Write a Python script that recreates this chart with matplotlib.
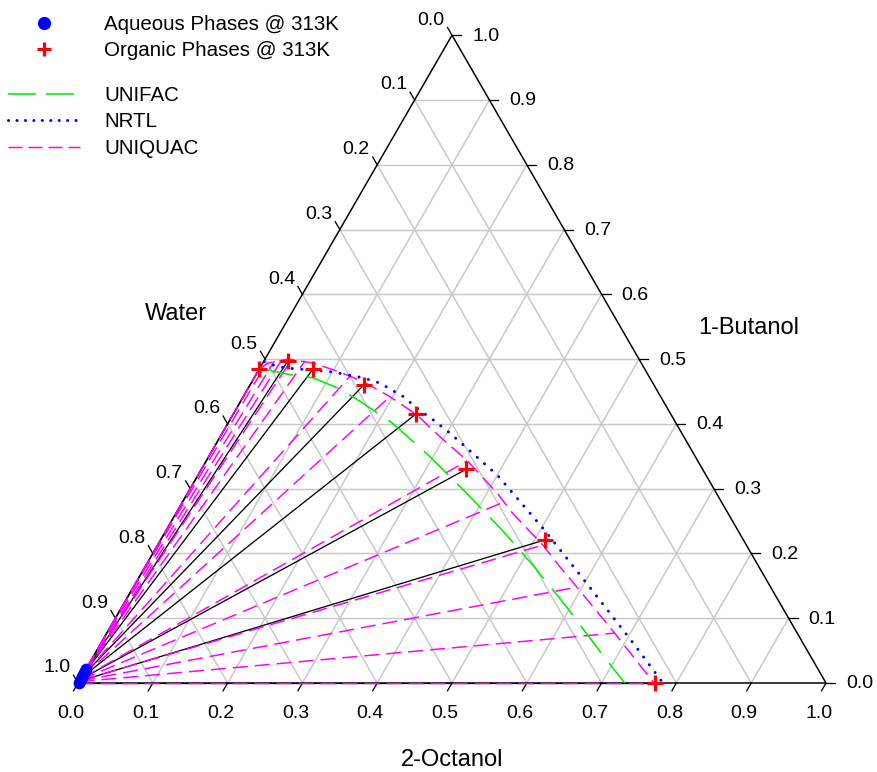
import numpy as np
import matplotlib
matplotlib.use('Agg')
import matplotlib.pyplot as plt
from matplotlib.lines import Line2D

plt.rcParams['font.family'] = ['Liberation Sans', 'DejaVu Sans']
plt.rcParams['lines.scale_dashes'] = False

# ---------------- data (mole fractions: 2-octanol, 1-butanol; water = rest) -------------
# experimental organic phases @ 313K
org_octanol = [0.000, 0.032, 0.072, 0.152, 0.244, 0.354, 0.514, 0.771]
org_butanol = [0.485, 0.497, 0.485, 0.460, 0.415, 0.330, 0.221, 0.000]
# experimental aqueous phases @ 313K
aq_octanol = [0.000, 0.001, 0.001, 0.001, 0.001, 0.001, 0.001, 0.001]
aq_butanol = [0.021, 0.018, 0.015, 0.012, 0.009, 0.006, 0.003, 0.000]

# UNIQUAC calculated tie lines
uq_tie_org_octanol = [0.000, 0.005, 0.014, 0.023, 0.036, 0.055, 0.127, 0.196,
                      0.349, 0.429, 0.515, 0.593, 0.679, 0.770]
uq_tie_org_butanol = [0.485, 0.492, 0.497, 0.499, 0.500, 0.497, 0.474, 0.442,
                      0.343, 0.279, 0.213, 0.148, 0.077, 0.000]
uq_tie_aq_octanol = [0.000, 0.000, 0.000, 0.001, 0.001, 0.001, 0.001, 0.001,
                     0.001, 0.001, 0.001, 0.001, 0.001, 0.000]
uq_tie_aq_butanol = [0.024, 0.022, 0.021, 0.019, 0.017, 0.015, 0.012, 0.009,
                     0.007, 0.005, 0.004, 0.003, 0.002, 0.000]

# binodal curves (organic branch)
uniquac_octanol = [0.000, 0.007, 0.031, 0.067, 0.110, 0.149, 0.196, 0.246, 0.294,
                   0.349, 0.414, 0.450, 0.515, 0.555, 0.593, 0.679, 0.770]
uniquac_butanol = [0.485, 0.494, 0.500, 0.494, 0.480, 0.465, 0.442, 0.414, 0.380,
                   0.343, 0.293, 0.262, 0.213, 0.179, 0.148, 0.077, 0.000]

unifac_octanol = [0.000, 0.046, 0.079, 0.123, 0.165, 0.220, 0.295, 0.373, 0.449,
                  0.522, 0.595, 0.680, 0.731]
unifac_butanol = [0.486, 0.476, 0.471, 0.454, 0.432, 0.401, 0.350, 0.293, 0.236,
                  0.178, 0.117, 0.043, 0.000]

nrtl_octanol = [0.001, 0.023, 0.048, 0.075, 0.101, 0.146, 0.172, 0.214, 0.243,
                0.272, 0.304, 0.400, 0.502, 0.603, 0.711, 0.782]
nrtl_butanol = [0.496, 0.488, 0.485, 0.483, 0.480, 0.471, 0.463, 0.442, 0.423,
                0.406, 0.386, 0.321, 0.239, 0.154, 0.062, 0.000]

tick_values = [0.0, 0.1, 0.2, 0.3, 0.4, 0.5, 0.6, 0.7, 0.8, 0.9, 1.0]
tick_labels = ['0.0', '0.1', '0.2', '0.3', '0.4', '0.5', '0.6', '0.7', '0.8', '0.9', '1.0']

legend_labels = ['Aqueous Phases @ 313K', 'Organic Phases @ 313K', 'UNIFAC', 'NRTL', 'UNIQUAC']
axis_titles = ['Water', '1-Butanol', '2-Octanol']

# ---------------- figure ----------------
W, H = 877, 772
fig = plt.figure(figsize=(W / 100, H / 100), dpi=100)
ax = fig.add_axes([0, 0, 1, 1])
S = 748.0            # pixels per unit triangle side
X0, Y0 = 78.0, 683.0  # pixel position of the lower-left vertex (from top-left)
ax.set_xlim(-X0 / S, (W - X0) / S)
ax.set_ylim(-(H - Y0) / S, Y0 / S)
ax.axis('off')
PX = 1.0 / S
SQ = np.sqrt(3) / 2


def to_xy(octanol, butanol):
    o = np.asarray(octanol, float)
    b = np.asarray(butanol, float)
    return o + b / 2, b * SQ


def pt(px):
    return px / 1.3889


grid_color = '#c8c8c8'
# grid
for f in tick_values[1:-1]:
    # constant butanol
    x, y = to_xy([0, 1 - f], [f, f])
    ax.plot(x, y, color=grid_color, lw=pt(1.5), zorder=1)
    # constant octanol
    x, y = to_xy([f, f], [0, 1 - f])
    ax.plot(x, y, color=grid_color, lw=pt(1.5), zorder=1)
    # constant water
    x, y = to_xy([1 - f, 0], [0, 1 - f])
    ax.plot(x, y, color=grid_color, lw=pt(1.5), zorder=1)

# triangle frame
x, y = to_xy([0, 1, 0, 0], [0, 0, 1, 0])
ax.plot(x, y, color='black', lw=pt(1.5), zorder=2, solid_joinstyle='miter')

# ticks and labels
TL = 9 * PX
fs_tick = 14
for v, lab in zip(tick_values, tick_labels):
    # bottom: 2-octanol
    bx, by = to_xy(v, 0)
    ax.plot([bx, bx - 0.5 * TL], [by, by - SQ * TL], color='black', lw=pt(1.3), zorder=2)
    ax.text(bx - 7 * PX, by - 30 * PX, lab, fontsize=fs_tick, ha='center', va='center')
    # right: 1-butanol
    rx, ry = to_xy(1 - v, v)
    ax.plot([rx, rx + TL], [ry, ry], color='black', lw=pt(1.3), zorder=2)
    ax.text(rx + 20 * PX, ry - 1 * PX, lab, fontsize=fs_tick, ha='left', va='center')
    # left: water
    lx, ly = to_xy(0, 1 - v)
    ax.plot([lx, lx - 0.5 * TL], [ly, ly + SQ * TL], color='black', lw=pt(1.3), zorder=2)
    ax.text(lx - 21 * PX, ly + 15 * PX, lab, fontsize=fs_tick, ha='center', va='center')

# axis titles
fs_title = 17
ax.text((176 - X0) * PX, (Y0 - 314) * PX, axis_titles[0], fontsize=fs_title, ha='center', va='center')
ax.text((749 - X0) * PX, (Y0 - 328) * PX, axis_titles[1], fontsize=fs_title, ha='center', va='center')
ax.text((452 - X0) * PX, (Y0 - 760) * PX, axis_titles[2], fontsize=fs_title, ha='center', va='center')

# experimental tie lines
for oa, ba, oo, bo in zip(aq_octanol, aq_butanol, org_octanol, org_butanol):
    x, y = to_xy([oa, oo], [ba, bo])
    ax.plot(x, y, color='black', lw=pt(1.3), zorder=3)

magenta = '#ff00ff'
uq_dash = (0, (pt(15), pt(7)))
# UNIQUAC tie lines
for oa, ba, oo, bo in zip(uq_tie_aq_octanol, uq_tie_aq_butanol, uq_tie_org_octanol, uq_tie_org_butanol):
    x, y = to_xy([oa, oo], [ba, bo])
    ax.plot(x, y, color=magenta, lw=pt(1.5), ls=uq_dash, zorder=4)

# binodal curves
x, y = to_xy(unifac_octanol, unifac_butanol)
ax.plot(x, y, color='#00ee00', lw=pt(1.6), ls=(0, (pt(34), pt(13))), zorder=5)
x, y = to_xy(uniquac_octanol, uniquac_butanol)
ax.plot(x, y, color=magenta, lw=pt(1.5), ls=uq_dash, zorder=5)
x, y = to_xy(nrtl_octanol, nrtl_butanol)
ax.plot(x, y, color='#0000ff', lw=pt(3.0), ls=(0, (0.1, pt(9.5))), dash_capstyle='round', zorder=6)

# experimental points
x, y = to_xy(aq_octanol, aq_butanol)
ax.plot(x, y, 'o', color='#0000ff', ms=8.5, mec='#0000ff', mew=0, zorder=7)
x, y = to_xy(org_octanol, org_butanol)
ax.plot(x, y, '+', color='#ff0000', ms=11, mew=2.3, zorder=8)

# legends
fs_leg = 14.8
h1 = [Line2D([], [], ls='none', marker='o', color='#0000ff', ms=9.5, mew=0),
      Line2D([], [], ls='none', marker='+', color='#ff0000', ms=10.5, mew=2.3)]
h2 = [Line2D([], [], color='#00ee00', lw=pt(1.6), ls=(0, (pt(28), pt(10)))),
      Line2D([], [], color='#0000ff', lw=pt(3.0), ls=(0, (0.1, pt(8.3))), dash_capstyle='round'),
      Line2D([], [], color=magenta, lw=pt(1.5), ls=(0, (pt(14), pt(6))))]
em = fs_leg / 72 * 100
common = dict(frameon=False, fontsize=fs_leg, handlelength=72 / em, handletextpad=24 / em,
              borderpad=0, borderaxespad=0, labelspacing=0.36, loc='upper left', numpoints=1)
leg1 = fig.legend(h1, legend_labels[:2], bbox_to_anchor=(8 / W, 1 - 15 / H), **common)
leg2 = fig.legend(h2, legend_labels[2:], bbox_to_anchor=(8 / W, 1 - 86 / H), **common)

fig.savefig('out.png', dpi=100)
